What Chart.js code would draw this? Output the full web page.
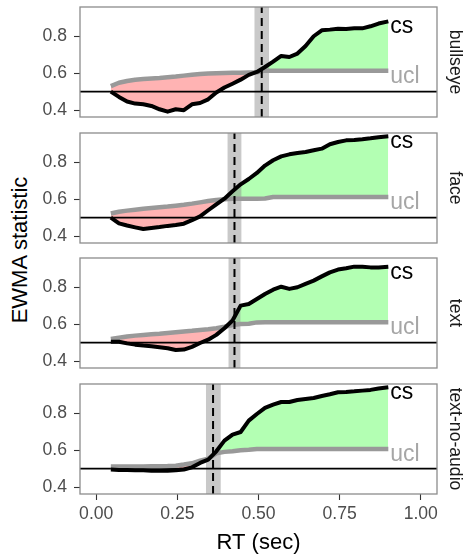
<!DOCTYPE html>
<html>
<head>
<meta charset="utf-8">
<script src="https://cdn.jsdelivr.net/npm/chart.js@4.4.1/dist/chart.umd.min.js"></script>
<style>
  body { margin: 0; background: #fff; width: 466px; height: 556px; position: relative; overflow: hidden; }
  canvas { position: absolute; left: 0; }
  #ytitle {
    position: absolute; left: -80px; top: 239px; width: 200px; height: 22px;
    font: 22px 'Liberation Sans', Arial, sans-serif; line-height: 22px; color: #000;
    text-align: center; transform: rotate(-90deg); white-space: nowrap;
  }
</style>
</head>
<body>
<div id="ytitle">EWMA statistic</div>
<canvas id="p0" width="466" height="125" style="top:0px"></canvas>
<canvas id="p1" width="466" height="125" style="top:126px"></canvas>
<canvas id="p2" width="466" height="125" style="top:251px"></canvas>
<canvas id="p3" width="466" height="179" style="top:377px"></canvas>
<script>
// facets, top to bottom
const panels = ['bullseye', 'face', 'text', 'text-no-audio'];

// RT grid (sec)
const rt = [0.045, 0.07, 0.095, 0.12, 0.145, 0.17, 0.195, 0.22, 0.245, 0.27, 0.295, 0.32,
  0.345, 0.37, 0.395, 0.42, 0.445, 0.47, 0.495, 0.52, 0.545, 0.57, 0.595, 0.62, 0.645,
  0.67, 0.695, 0.72, 0.745, 0.77, 0.795, 0.82, 0.845, 0.87, 0.9];

// EWMA statistic (cs)
const csBullseye = [0.500, 0.471, 0.446, 0.435, 0.431, 0.422, 0.404, 0.391, 0.404, 0.399, 0.431, 0.438,
  0.458, 0.495, 0.522, 0.543, 0.565, 0.591, 0.607, 0.634, 0.663, 0.694, 0.688, 0.707, 0.748,
  0.801, 0.833, 0.837, 0.842, 0.841, 0.844, 0.844, 0.855, 0.870, 0.882];
const csFace = [0.500, 0.469, 0.457, 0.447, 0.438, 0.444, 0.449, 0.455, 0.460, 0.467, 0.486, 0.507,
  0.540, 0.572, 0.603, 0.643, 0.681, 0.710, 0.743, 0.783, 0.812, 0.833, 0.844, 0.851, 0.857,
  0.866, 0.875, 0.899, 0.911, 0.920, 0.922, 0.926, 0.931, 0.937, 0.942];
const csText = [0.505, 0.505, 0.496, 0.489, 0.484, 0.480, 0.475, 0.469, 0.460, 0.462, 0.477, 0.498,
  0.516, 0.542, 0.578, 0.620, 0.701, 0.710, 0.737, 0.764, 0.788, 0.804, 0.792, 0.801, 0.819,
  0.837, 0.860, 0.882, 0.897, 0.904, 0.913, 0.913, 0.909, 0.909, 0.913];
const csNoAudio = [0.495, 0.493, 0.493, 0.491, 0.491, 0.489, 0.489, 0.489, 0.491, 0.495, 0.507, 0.531,
  0.549, 0.594, 0.652, 0.685, 0.699, 0.761, 0.797, 0.830, 0.848, 0.862, 0.862, 0.873, 0.879,
  0.884, 0.895, 0.904, 0.915, 0.917, 0.920, 0.924, 0.928, 0.935, 0.942];

// upper control limit
const uclBullseye = [0.530, 0.548, 0.558, 0.565, 0.568, 0.571, 0.574, 0.578, 0.582, 0.587, 0.592, 0.596,
  0.598, 0.600, 0.601, 0.602, 0.603, 0.604, 0.605, 0.614, 0.614, 0.614, 0.614, 0.614, 0.614,
  0.614, 0.614, 0.614, 0.614, 0.614, 0.614, 0.614, 0.614, 0.614, 0.614];
const uclFace = [0.522, 0.532, 0.538, 0.543, 0.548, 0.552, 0.556, 0.560, 0.565, 0.570, 0.576, 0.583,
  0.590, 0.596, 0.600, 0.603, 0.603, 0.603, 0.603, 0.604, 0.612, 0.612, 0.612, 0.612, 0.612,
  0.612, 0.612, 0.612, 0.612, 0.612, 0.612, 0.612, 0.612, 0.612, 0.612];
const uclText = [0.520, 0.527, 0.533, 0.538, 0.542, 0.545, 0.548, 0.552, 0.556, 0.560, 0.564, 0.569,
  0.573, 0.578, 0.586, 0.596, 0.601, 0.603, 0.610, 0.611, 0.611, 0.611, 0.611, 0.611, 0.611,
  0.611, 0.611, 0.611, 0.611, 0.611, 0.611, 0.611, 0.611, 0.611, 0.611];
const uclNoAudio = [0.512, 0.512, 0.512, 0.512, 0.512, 0.513, 0.513, 0.514, 0.516, 0.522, 0.529, 0.543,
  0.554, 0.583, 0.591, 0.594, 0.600, 0.603, 0.607, 0.607, 0.607, 0.607, 0.607, 0.607, 0.607,
  0.607, 0.607, 0.607, 0.607, 0.607, 0.607, 0.607, 0.607, 0.607, 0.607];

// change point and its interval
const changePoint = [0.510, 0.426, 0.426, 0.360];
const changeLo = [0.487, 0.404, 0.407, 0.338];
const changeHi = [0.533, 0.448, 0.445, 0.384];

const baseline = 0.5;
const xTicks = [0, 0.25, 0.5, 0.75, 1];
const yTicks = [0.4, 0.6, 0.8];
const xMin = -0.05, xMax = 1.05;
const yMin = 0.362, yMax = 0.96;

const csSeries = [csBullseye, csFace, csText, csNoAudio];
const uclSeries = [uclBullseye, uclFace, uclText, uclNoAudio];

Chart.defaults.font.family = "'Liberation Sans', Arial, sans-serif";
const tickGray = '#4D4D4D';
const lineGray = '#999999';

const pts = (ys) => rt.map((x, i) => ({ x: x, y: ys[i] }));

const panelDeco = {
  id: 'panelDeco',
  afterDatasetsDraw(chart, args, opts) {
    const { ctx, chartArea: a, scales } = chart;
    ctx.save();
    // end labels
    ctx.font = "23px 'Liberation Sans', Arial, sans-serif";
    ctx.textAlign = 'left';
    ctx.textBaseline = 'alphabetic';
    const lx = scales.x.getPixelForValue(rt[rt.length - 1]) + 2;
    ctx.fillStyle = '#000';
    ctx.fillText('cs', lx, scales.y.getPixelForValue(opts.csEnd) + 12);
    ctx.fillStyle = '#A6A6A6';
    ctx.fillText('ucl', lx, scales.y.getPixelForValue(opts.uclEnd) + 12);
    // panel border
    ctx.strokeStyle = '#8C8C8C';
    ctx.lineWidth = 1.3;
    ctx.strokeRect(a.left, a.top, a.right - a.left, a.bottom - a.top);
    // strip label
    ctx.translate(455, (a.top + a.bottom) / 2);
    ctx.rotate(Math.PI / 2);
    ctx.font = "17.6px 'Liberation Sans', Arial, sans-serif";
    ctx.fillStyle = '#1A1A1A';
    ctx.textAlign = 'center';
    ctx.textBaseline = 'middle';
    ctx.fillText(opts.strip, 0, 0);
    ctx.restore();
  }
};

panels.forEach((name, i) => {
  const last = i === panels.length - 1;
  new Chart(document.getElementById('p' + i), {
    type: 'line',
    data: {
      datasets: [
        {
          data: [{ x: changeLo[i], y: yMin }, { x: changeHi[i], y: yMin }],
          fill: 'end', backgroundColor: 'rgba(140,140,140,0.47)',
          borderColor: 'transparent', borderWidth: 0, pointRadius: 0, order: 0
        },
        {
          data: [{ x: changePoint[i], y: yMin }, { x: changePoint[i], y: yMax }],
          borderColor: '#000', borderWidth: 2, borderDash: [8, 5], pointRadius: 0, fill: false, order: 1
        },
        {
          data: pts(csSeries[i]),
          borderColor: '#000', borderWidth: 4, pointRadius: 0, borderJoinStyle: 'round',
          fill: { target: 3, above: '#B3FFB3', below: '#FFB3B3' }, order: 1
        },
        {
          data: pts(uclSeries[i]),
          borderColor: lineGray, borderWidth: 4.5, pointRadius: 0, borderJoinStyle: 'round',
          fill: false, order: 1
        },
        {
          data: [{ x: xMin, y: baseline }, { x: xMax, y: baseline }],
          borderColor: '#000', borderWidth: 1.6, pointRadius: 0, fill: false, order: 1
        }
      ]
    },
    options: {
      responsive: false,
      animation: false,
      devicePixelRatio: 1,
      events: [],
      layout: { padding: { top: 7, bottom: last ? 0 : 8, left: 0, right: 29 } },
      elements: { line: { tension: 0 } },
      plugins: {
        legend: { display: false },
        tooltip: { enabled: false },
        filler: { drawTime: 'beforeDatasetsDraw' },
        panelDeco: {
          strip: name,
          csEnd: csSeries[i][csSeries[i].length - 1],
          uclEnd: uclSeries[i][uclSeries[i].length - 1]
        }
      },
      scales: {
        x: {
          type: 'linear', min: xMin, max: xMax, display: last,
          afterBuildTicks: (s) => { s.ticks = xTicks.map(v => ({ value: v })); },
          afterFit: (s) => {
            if (last) s.height = 62;
            s.paddingLeft = 0; s.paddingRight = 0;
          },
          ticks: { callback: (v) => v.toFixed(2), color: tickGray, font: { size: 17.6 }, padding: 4, maxRotation: 0, autoSkip: false },
          grid: { drawOnChartArea: false, tickLength: 6, tickColor: '#333333', tickWidth: 1.1 },
          border: { display: false },
          title: { display: true, text: 'RT (sec)', color: '#000', font: { size: 22 }, padding: 0 }
        },
        y: {
          type: 'linear', min: yMin, max: yMax,
          afterBuildTicks: (s) => { s.ticks = yTicks.map(v => ({ value: v })); },
          afterFit: (s) => {
            s.width = 80;
            s.paddingTop = 0; s.paddingBottom = 0;
          },
          ticks: { callback: (v) => v.toFixed(1), color: tickGray, font: { size: 17.6 }, padding: 7 },
          grid: { drawOnChartArea: false, tickLength: 6, tickColor: '#333333', tickWidth: 1.1 },
          border: { display: false }
        }
      }
    },
    plugins: [panelDeco]
  });
});
</script>
</body>
</html>
